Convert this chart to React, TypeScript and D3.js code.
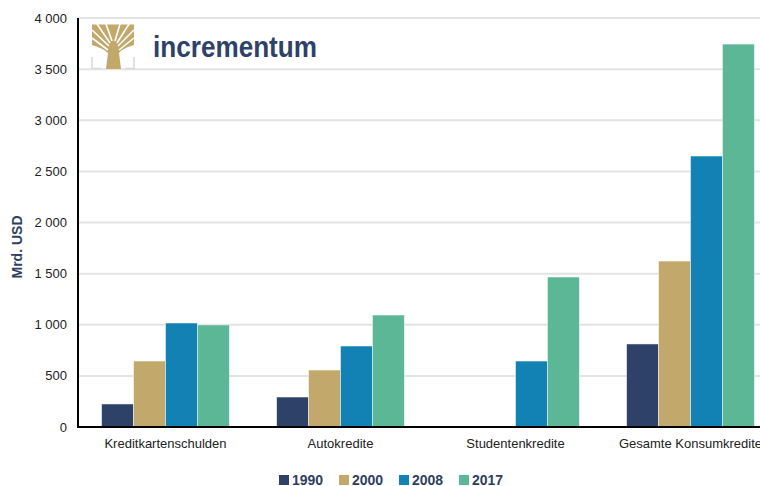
import React from "react";
import * as d3 from "d3";

const categories = ["Kreditkartenschulden", "Autokredite", "Studentenkredite", "Gesamte Konsumkredite"];
const years = ["1990", "2000", "2008", "2017"];
const v1990 = [225, 293, 0, 812];
const v2000 = [645, 557, 0, 1623];
const v2008 = [1017, 792, 645, 2650];
const v2017 = [998, 1095, 1467, 3745];
const yTicks = [0, 500, 1000, 1500, 2000, 2500, 3000, 3500, 4000];
const colors = ["#2e4169", "#c2a96b", "#1282b4", "#5bb796"];

const series = [v1990, v2000, v2008, v2017];

export default function App() {
  const W = 760, H = 486;
  const left = 78, right = 778, top = 18, bottom = 427;
  const x0 = d3.scaleBand<string>().domain(categories).range([left, right]).paddingInner(0.27).paddingOuter(0.135);
  const x1 = d3.scaleBand<string>().domain(years).range([0, x0.bandwidth()]).padding(0);
  const y = d3.scaleLinear().domain([0, 4000]).range([bottom, top]);
  const fmt = (v: number) => d3.format(",")(v).replace(",", " ");
  const font = "Liberation Sans, Arial, sans-serif";

  const legendX = [279, 339, 399, 459];

  // branch gaps (white strokes) radiating from trunk top
  const gaps: [number, number, number, number][] = [
    [108, 50, 92, 38], [109, 46, 92, 30], [110, 43, 97, 24], [112, 41, 106, 24],
    [115, 41, 120, 24], [117, 43, 129, 24], [118, 46, 134, 30], [119, 50, 134, 38],
  ];

  return (
    <svg width={W} height={H} style={{ position: "absolute", left: 0, top: 0, background: "#fff" }} fontFamily={font}>
      {yTicks.map((t) => (
        <g key={t}>
          {t > 0 && <line x1={left} x2={W} y1={y(t)} y2={y(t)} stroke="#e3e3e3" strokeWidth={2} />}
          <text x={67} y={y(t)} dy="0.35em" textAnchor="end" fontSize={13} fill="#222">{fmt(t)}</text>
        </g>
      ))}
      {/* logo */}
      <g>
        <path d="M92,57 L92,68.5 L101,68.5 M134,57 L134,68.5 L125,68.5" fill="none" stroke="#d9d9d9" strokeWidth={1.5} />
        <path d="M92,24 L134,24 L134,45 C128,47 122,49 119,53 L121,69 L106,69 L108,53 C104,49 98,47 92,45 Z" fill="#c2a96b" />
        {gaps.map((g, i) => (
          <line key={i} x1={g[0]} y1={g[1]} x2={g[2]} y2={g[3]} stroke="#fff" strokeWidth={1.6} />
        ))}
        <path d="M92,24 L134,24" stroke="#fff" strokeWidth={1} />
        <text x={153} y={57} fontSize={29} fontWeight="bold" fill="#2e4169" fontFamily="Liberation Sans, Arial, sans-serif" textLength={164} lengthAdjust="spacingAndGlyphs">incrementum</text>
      </g>
      {categories.map((c, ci) => (
        <g key={c}>
          {series.map((s, si) =>
            s[ci] > 0 ? (
              <rect key={si} x={(x0(c) as number) + (x1(years[si]) as number)} y={y(s[ci])}
                width={x1.bandwidth()} height={bottom - y(s[ci])} fill={colors[si]} stroke="#fff" strokeOpacity={0.6} strokeWidth={0.8} />
            ) : null
          )}
          <text x={(x0(c) as number) + x0.bandwidth() / 2} y={448} textAnchor="middle" fontSize={13} fill="#222">{c}</text>
        </g>
      ))}
      <line x1={left} x2={left} y1={top} y2={bottom} stroke="#000" strokeWidth={2} />
      <line x1={left - 1} x2={W} y1={bottom} y2={bottom} stroke="#000" strokeWidth={2} />
      <text transform={`translate(22,247) rotate(-90)`} textAnchor="middle" fontSize={14} fontWeight="bold" fill="#2e3f5f">Mrd. USD</text>
      {years.map((yr, i) => (
        <g key={yr}>
          <rect x={legendX[i]} y={475} width={10} height={10} fill={colors[i]} />
          <text x={legendX[i] + 13} y={485} fontSize={14} fontWeight="bold" fill="#2e3f5f">{yr}</text>
        </g>
      ))}
    </svg>
  );
}
